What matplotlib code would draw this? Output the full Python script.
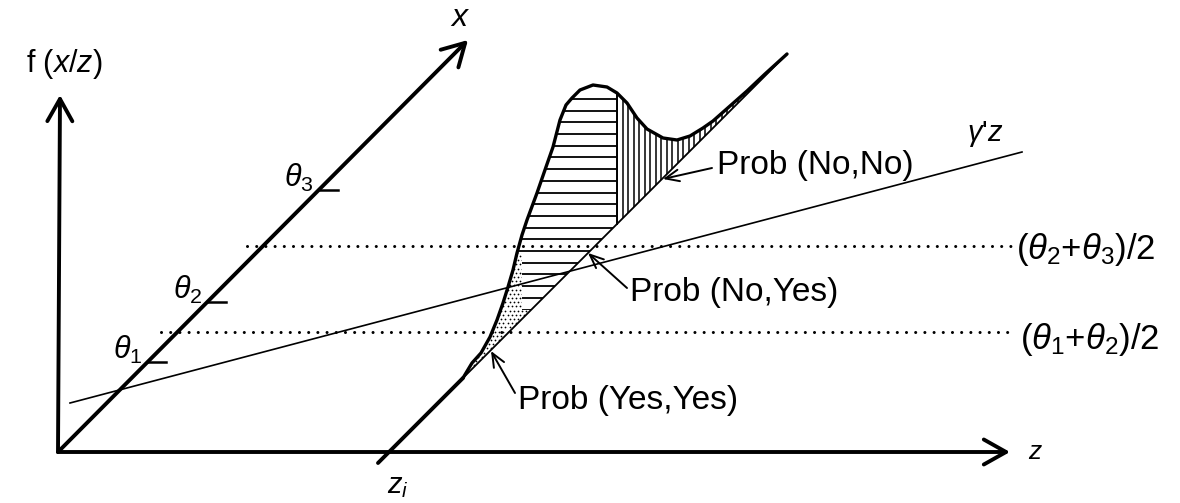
import numpy as np
import matplotlib
matplotlib.use("Agg")
import matplotlib.pyplot as plt
from matplotlib.patches import Polygon
from matplotlib.collections import LineCollection

plt.rcParams['font.family'] = ['Liberation Sans', 'DejaVu Sans']
plt.rcParams['mathtext.fontset'] = 'custom'
plt.rcParams['mathtext.rm'] = 'Liberation Sans'
plt.rcParams['mathtext.it'] = 'Liberation Sans:italic'

# diagram units: origin of f(x/z) / z axes, 1 unit ~ 1 px
z_axis_end = 952
f_axis_end = 357
x_axis_end = 410          # x axis drawn at 45 degrees
theta = [90, 150, 262]    # theta_1..3 along the x axis
z_i = 331                 # where the shifted x axis meets z
gamma_z = ([12, 964], [49, 300])   # the gamma'z line

# conditional density f(x/z), drawn on the shifted x axis
density_u = [405, 414, 423, 432, 439, 445, 450, 455, 459, 464, 469, 479, 488, 495,
             502, 508, 514, 522, 535, 549, 559, 569, 579, 589, 605, 619, 632, 645,
             655, 672, 689, 707, 729]
density_v = [74, 89, 99, 115, 132, 149, 165, 182, 199, 217, 232, 259, 285, 305,
             332, 347, 354, 362, 367, 365, 359, 349, 334, 323, 314, 312, 316, 324,
             331, 346, 361, 378, 398]

cut_lo = (theta[0] + theta[1]) / 2
cut_hi = (theta[1] + theta[2]) / 2

fig = plt.figure(figsize=(11.8, 5.03), dpi=100)
ax = fig.add_axes([0, 0, 1, 1])
ax.set_xlim(-58, 1122)
ax.set_ylim(-51, 452)
ax.axis('off')

def base(u):
    return u - z_i

def arrow(start, tip, lw=2.8, hl=0.8, hw=0.45, ms=20):
    ax.annotate('', xy=tip, xytext=start,
                arrowprops=dict(arrowstyle=f'->,head_length={hl},head_width={hw}',
                                lw=lw, color='k', mutation_scale=ms,
                                shrinkA=0, shrinkB=0, capstyle='round'))

# axes
arrow((0, 0), (2, f_axis_end))
arrow((0, 0), (z_axis_end, 0))
arrow((0, 0), (x_axis_end, x_axis_end + 2))

# theta ticks and labels
for i, t in enumerate(theta):
    ax.plot([t, t + 18], [t, t], color='k', lw=1.8)
    ax.text(t - 6, t + 12, rf'$\theta_{i + 1}$', ha='right', va='center', fontsize=22)

# dotted thresholds
for c in [cut_lo, cut_hi]:
    ax.plot([c - 17, 955], [c, c], color='k', lw=2.2,
            linestyle=(0, (0.01, 3.0)), dash_capstyle='round')

# gamma'z line
ax.plot(gamma_z[0], gamma_z[1], color='k', lw=1.2)

# shifted x axis at z_i
ax.plot([z_i - 11, density_u[0]], [base(z_i - 11), density_v[0]], color='k', lw=2.8,
        solid_capstyle='round')
ax.plot([density_u[0], density_u[-1]], [base(density_u[0]), base(density_u[-1])],
        color='k', lw=1.3)

du = np.array(density_u)
dv = np.array(density_v)

# region boundaries
split_u = 559
stip_top = 199
hatch_bot = 142
stip_right = 464

# vertical hatch region: Prob(No,No)
m = du >= split_u
poly_nn = list(zip(du[m], dv[m])) + [(split_u, base(split_u))]
p_nn = Polygon(poly_nn, closed=True, fill=False, lw=0)
ax.add_patch(p_nn)
xs = np.arange(split_u, 730, 5.5)
vl = LineCollection([[(x, -10), (x, 420)] for x in xs], colors='k', linewidths=1.1)
ax.add_collection(vl)
vl.set_clip_path(p_nn)
ax.plot([split_u, split_u], [base(split_u), np.interp(split_u, du, dv)], color='k', lw=1.4)

# horizontal hatch region: Prob(No,Yes)
m = (dv >= stip_top) & (du <= split_u)
poly_ny = ([(stip_right, stip_top)] + list(zip(du[m], dv[m])) +
           [(split_u, base(split_u)), (hatch_bot + z_i, hatch_bot), (stip_right, hatch_bot)])
p_ny = Polygon(poly_ny, closed=True, fill=False, lw=0)
ax.add_patch(p_ny)
ys = np.arange(hatch_bot + 0.5, 360, 11.7)
hl = LineCollection([[(380, y), (620, y)] for y in ys], colors='k', linewidths=1.3)
ax.add_collection(hl)
hl.set_clip_path(p_ny)

# stippled region: Prob(Yes,Yes)
m = dv <= stip_top
poly_yy = (list(zip(du[m], dv[m])) + [(stip_right, stip_top), (stip_right, hatch_bot),
                                      (hatch_bot + z_i, hatch_bot)])
p_yy = Polygon(poly_yy, closed=True, fill=False, lw=0)
ax.add_patch(p_yy)
gu, gv = np.meshgrid(np.arange(395, 480, 4.2), np.arange(70, 205, 4.2))
gu = gu + (np.arange(gv.shape[0])[:, None] % 2) * 2.1
dots = ax.scatter(gu.ravel(), gv.ravel(), s=1.6, color='k', lw=0)
dots.set_clip_path(p_yy)

# density curve
ax.plot(du, dv, color='k', lw=2.4, solid_joinstyle='round', solid_capstyle='round')

# labels
ax.text(6, 388, r'f ($x$/$z$)', ha='center', va='center', fontsize=22)
ax.text(402, 434, r'$x$', ha='center', va='center', fontsize=23)
ax.text(970, 0, r'$z$', ha='left', va='center', fontsize=19)
ax.text(340, -34, r'$z_i$', ha='center', va='center', fontsize=21)
ax.text(927, 318, r"$\gamma$'$z$", ha='center', va='center', fontsize=21)
ax.text(958, cut_hi - 4, r'($\theta_2$+$\theta_3$)/2', ha='left', va='center', fontsize=25)
ax.text(962, cut_lo - 7, r'($\theta_1$+$\theta_2$)/2', ha='left', va='center', fontsize=25)

labels = ['Prob (No,No)', 'Prob (No,Yes)', 'Prob (Yes,Yes)']
label_pos = [(659, 287), (572, 159), (460, 52)]
label_tip = [(605, 273), (530, 199), (433, 101)]
label_from = [(654, 284), (569, 164), (457, 59)]
for lab, pos, tip, src in zip(labels, label_pos, label_tip, label_from):
    ax.text(pos[0], pos[1], lab, ha='left', va='center', fontsize=24)
    arrow(src, tip, lw=1.4, hl=0.7, hw=0.3, ms=14)

fig.savefig('out.png', dpi=100)
